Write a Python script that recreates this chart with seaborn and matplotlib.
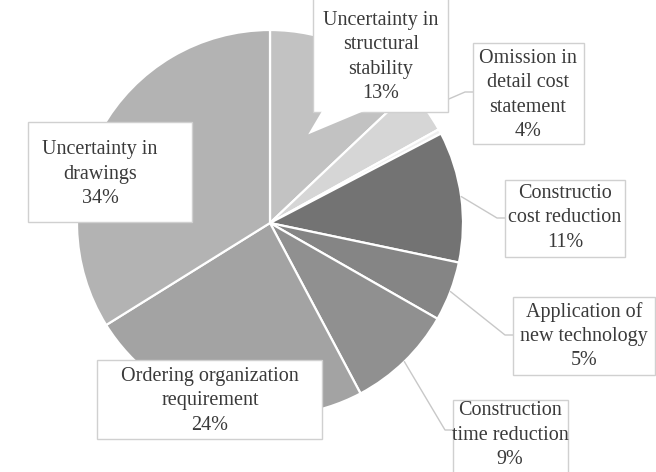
import numpy as np
import matplotlib
matplotlib.use('Agg')
import matplotlib.pyplot as plt
import matplotlib.patches as mpatches
import seaborn as sns

# data (the unlabeled sliver sits between 4% and 11%)
causes = ['Uncertainty in\nstructural\nstability',
          'Omission in\ndetail cost\nstatement',
          '',
          'Constructio\ncost reduction',
          'Application of\nnew technology',
          'Construction\ntime reduction',
          'Ordering organization\nrequirement',
          'Uncertainty in\ndrawings']
shares = [13, 4, 0.4, 11, 5, 9, 24, 34]
colors = ['#c2c2c2', '#d6d6d6', '#f0f0f0', '#737373',
          '#858585', '#909090', '#a3a3a3', '#b3b3b3']

W, H = 656, 472

sns.set_theme(style='white')
plt.rcParams['font.family'] = ['Liberation Serif', 'DejaVu Serif']

fig = plt.figure(figsize=(W / 100, H / 100), dpi=100)
ax = fig.add_axes([0, 0, 1, 1])

cx, cy, R = 270, H - 223, 193
wedges, _ = ax.pie(shares, colors=colors, startangle=90, counterclock=False,
                   center=(cx, cy), radius=R,
                   wedgeprops=dict(edgecolor='white', linewidth=1.6))
ax.set_xlim(0, W)
ax.set_ylim(0, H)
ax.set_aspect('equal')
ax.axis('off')


def P(x, y):
    # pixel position (top-left origin) -> data
    return x, H - y


def edge_point(w, frac=1.0):
    a = np.deg2rad((w.theta1 + w.theta2) / 2)
    return cx + R * frac * np.cos(a), cy + R * frac * np.sin(a)


# label boxes: (x0, y0, x1, y1) in pixels, text centre, leader attach point
layout = {
    0: dict(box=(313, -2, 448, 112), text=(381, 57), attach=None),
    1: dict(box=(473, 43, 584, 144), text=(528, 95), attach=(473, 92)),
    3: dict(box=(505, 180, 625, 257), text=(565, 218), attach=(505, 218)),
    4: dict(box=(513, 297, 655, 375), text=(584, 336), attach=(513, 335)),
    5: dict(box=(453, 400, 568, 482), text=(510, 435), attach=(453, 430)),
    6: dict(box=(97, 360, 322, 439), text=(210, 401), attach=None),
    7: dict(box=(28, 122, 192, 222), text=(100, 174), attach=None),
}

line_col = '#c8c8c8'
for i, lay in layout.items():
    w = wedges[i]
    pct = f'{shares[i]:g}%'
    x0, y0, x1, y1 = lay['box']
    rect = mpatches.Rectangle(P(x0, y1), x1 - x0, y1 - y0, facecolor='white',
                              edgecolor='#d0d0d0', linewidth=1.0, zorder=4)
    ax.add_patch(rect)
    tx, ty = P(*lay['text'])
    ax.text(tx, ty, causes[i] + '\n' + pct, ha='center', va='center',
            fontsize=14.5, color='#3a3a3a', linespacing=1.38, zorder=5)
    if lay['attach'] is not None:
        ex, ey = edge_point(w, 1.0)
        ax2, ay2 = P(*lay['attach'])
        ax.plot([ex, ax2 - 8, ax2], [ey, ay2, ay2], color=line_col, lw=1.0, zorder=3)

# callout pointer for the 13% label
tip = edge_point(wedges[0], 0.5)
ax.add_patch(mpatches.Polygon([P(322, 111), P(364, 111), tip], closed=True,
                              facecolor='white', edgecolor='none', zorder=4))

fig.savefig('out.png', dpi=100)
